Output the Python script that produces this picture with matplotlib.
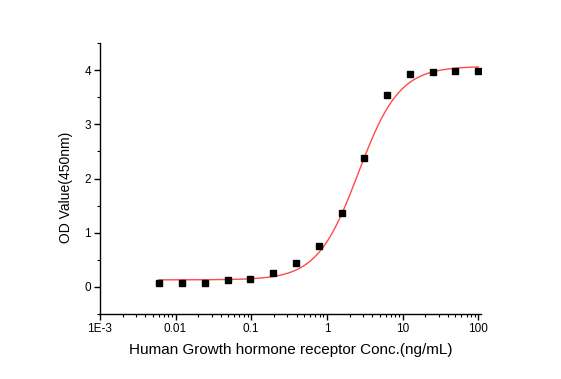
import numpy as np
import matplotlib.pyplot as plt
from matplotlib.ticker import FixedLocator, LogLocator, MultipleLocator, NullFormatter

plt.rcParams['font.family'] = ['Liberation Sans', 'DejaVu Sans']

# measured concentrations (ng/mL), 2-fold dilution series
conc = [0.0061, 0.0122, 0.0244, 0.0488, 0.0977, 0.195, 0.39, 0.78,
        1.5625, 3.125, 6.25, 12.5, 25, 50, 100]
od = [0.08, 0.08, 0.08, 0.12, 0.15, 0.25, 0.44, 0.76,
      1.36, 2.37, 3.54, 3.92, 3.96, 3.99, 3.99]

# 4PL fit parameters
fit_bottom = 0.13
fit_top = 4.07
fit_ec50 = 2.6
fit_hill = 1.6

xtick_vals = [1e-3, 0.01, 0.1, 1, 10, 100]
xtick_labels = ['1E-3', '0.01', '0.1', '1', '10', '100']
ytick_vals = [0, 1, 2, 3, 4]


def four_pl(x):
    return fit_top + (fit_bottom - fit_top) / (1 + (x / fit_ec50) ** fit_hill)


fig = plt.figure(figsize=(5.61, 3.79), dpi=100)
ax = fig.add_axes([0.178, 0.1715, 0.679, 0.715])

xs = np.logspace(np.log10(conc[0]), np.log10(conc[-1]), 300)
ax.plot(xs, four_pl(xs), color='#ff4a4a', lw=1.0, zorder=2)
ax.plot(conc, od, 's', color='black', ms=4.8, zorder=3)

ax.set_xscale('log')
ax.set_xlim(1e-3, 108)
ax.set_ylim(-0.5, 4.5)

ax.xaxis.set_major_locator(FixedLocator(xtick_vals))
ax.set_xticklabels(xtick_labels)
ax.xaxis.set_minor_locator(LogLocator(base=10, subs=np.arange(2, 10)))
ax.xaxis.set_minor_formatter(NullFormatter())
ax.set_yticks(ytick_vals)
ax.yaxis.set_minor_locator(MultipleLocator(0.5))

for s in ['top', 'right']:
    ax.spines[s].set_visible(False)
for s in ['left', 'bottom']:
    ax.spines[s].set_linewidth(1.0)

ax.tick_params(axis='both', which='major', direction='out', length=4,
               width=1.0, labelsize=8.5, pad=2.5)
ax.tick_params(axis='both', which='minor', direction='out', length=2.5, width=0.8)

ax.set_xlabel('Human Growth hormone receptor Conc.(ng/mL)', fontsize=11, labelpad=6)
ax.set_ylabel('OD Value(450nm)', fontsize=10)
ax.yaxis.set_label_coords(-0.071, 0.469)

fig.savefig('out.png', dpi=100)
